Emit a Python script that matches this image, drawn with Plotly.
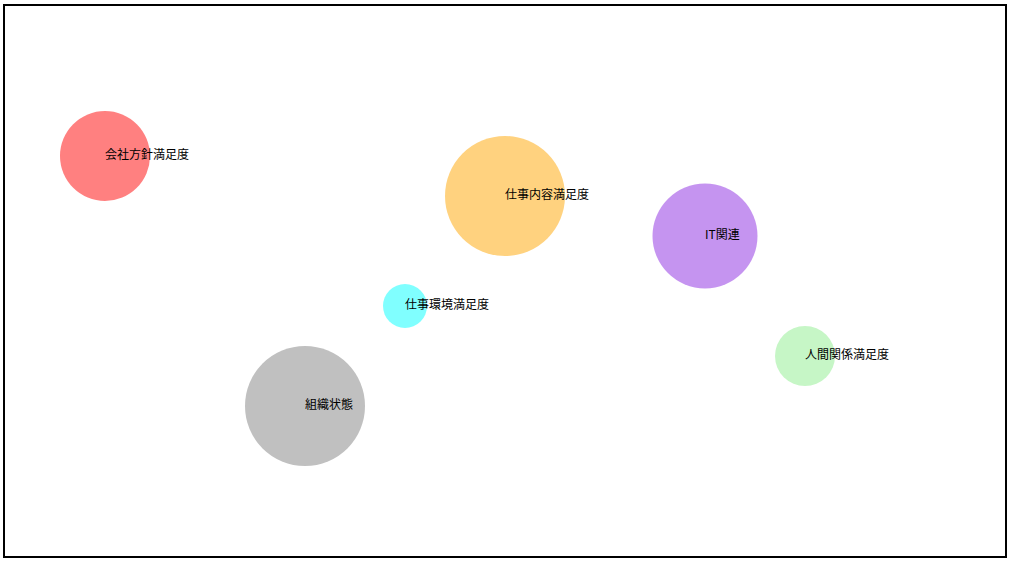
import plotly.graph_objects as go

labels = ["会社方針満足度", "仕事内容満足度", "IT関連", "仕事環境満足度", "人間関係満足度", "組織状態"]
x_vals = [1, 5, 7, 4, 8, 3]
y_vals = [8, 7.2, 6.4, 5, 4, 3]
sizes = [90, 120, 105, 44, 60, 120]
colors = ["#ff8080", "#ffd27f", "#c594f0", "#80ffff", "#c6f6c6", "#c0c0c0"]

fig = go.Figure()
fig.add_trace(go.Scatter(
    x=x_vals, y=y_vals, mode="markers",
    marker=dict(size=sizes, sizemode="diameter", color=colors, opacity=1, line=dict(width=0)),
    hoverinfo="skip", showlegend=False,
))
fig.add_trace(go.Scatter(
    x=x_vals, y=y_vals, mode="text", text=labels,
    textposition="middle right",
    textfont=dict(family="Noto Sans CJK JP", size=12, color="#000000"),
    showlegend=False,
))
fig.update_xaxes(range=[0, 10], showgrid=False, zeroline=False, showticklabels=False,
                 showline=True, mirror=True, linecolor="black", linewidth=2, ticks="")
fig.update_yaxes(range=[0, 11], showgrid=False, zeroline=False, showticklabels=False,
                 showline=True, mirror=True, linecolor="black", linewidth=2, ticks="")
fig.update_layout(
    width=1012, height=562,
    margin=dict(l=5, r=7, t=6, b=6),
    plot_bgcolor="white", paper_bgcolor="white",
)
fig.write_html("out.html", config={"displayModeBar": False},
               post_script="document.body.style.margin='0';")
